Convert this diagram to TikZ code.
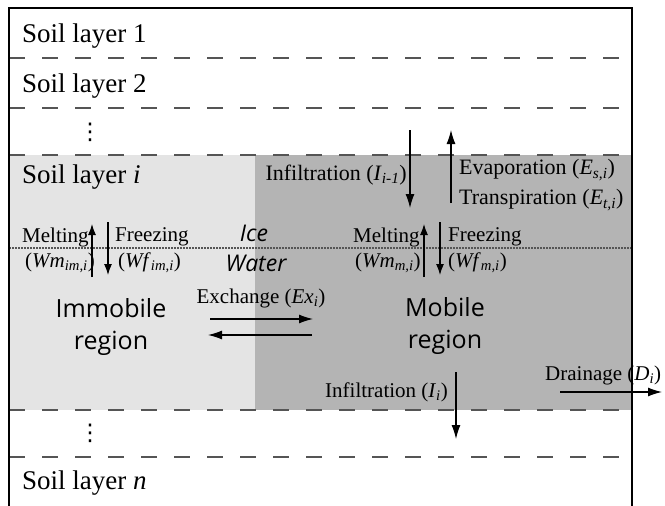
\documentclass[tikz,border=0pt]{standalone}
\usepackage{fontspec}
\setmainfont{Liberation Serif}
\newfontfamily\regionfont{Open Sans}
\newfontfamily\dotsfont{DejaVu Sans}
\usepackage{xcolor}
\usetikzlibrary{arrows.meta,positioning}
\definecolor{immcol}{RGB}{228,228,228}
\definecolor{mobcol}{RGB}{180,180,180}
\definecolor{sepcol}{RGB}{85,85,85}
\newcommand{\sub}[2]{\textit{#1}\textsubscript{\textit{#2}}}

\begin{document}
\begin{tikzpicture}[x=1pt, y=-1pt,
                    every node/.append style = {inner sep=0pt},
                    layerlbl/.style = {anchor=west, font=\fontsize{27}{31}\selectfont},
                    lbl/.style = {font=\fontsize{22}{26}\selectfont},
                    sml/.style = {anchor=west, font=\fontsize{21}{25}\selectfont},
                    dots/.style = {font=\dotsfont\fontsize{23}{26}\selectfont},
                    regionlbl/.style = {align=center, font=\regionfont\fontsize{25}{32}\selectfont},
                    phase/.style = {font=\regionfont\itshape\fontsize{23}{26}\selectfont},
                    flow/.style = {-{Latex[length=14pt,width=9pt]}, line width=1.2pt},
                    smallflow/.style = {-{Latex[length=11pt,width=8pt]}, line width=1.2pt},
                    layersep/.style = {draw=sepcol, line width=2.7pt, dash pattern=on 16pt off 17pt},
                    phasesep/.style = {draw=sepcol, line width=1.5pt, dash pattern=on 1.5pt off 1.5pt}]
    \useasboundingbox (0,0) rectangle (665,506);
    \fill[immcol] (9,155) rectangle (255,410);
    \fill[mobcol] (255,155) rectangle (632,410);
    \foreach \y in {58,108,155,410,457}
        \draw[layersep] (9,\y) -- (632,\y);
    \draw[phasesep] (9,248) -- (632,248);
    \draw[line width=2.6pt] (9,510) -- (9,8) -- (632,8) -- (632,510);

    \node[layerlbl] (l1) at (22,36) {Soil layer 1};
    \node[layerlbl] (l2) at (22,86) {Soil layer 2};
    \node[dots] (dtop) at (90,132) {⋮};
    \node[layerlbl] (li) at (22,177) {Soil layer \textit{i}};
    \node[dots] (dbot) at (90,433) {⋮};
    \node[layerlbl] (ln) at (22,483) {Soil layer \textit{n}};

    \node[lbl, anchor=east] (inftop) at (407,175) {Infiltration (\sub{I}{i-1})};
    \node[lbl, anchor=west] (evap) at (459,170) {Evaporation (\sub{E}{s,i})};
    \node[lbl, anchor=west] (transp) at (459,200) {Transpiration (\sub{E}{t,i})};
    \coordinate (inftopa) at (410,130);
    \coordinate (inftopb) at (410,208);
    \coordinate (evapa) at (451,203);
    \coordinate (evapb) at (451,130);
    \draw[flow] (inftopa) -- (inftopb);
    \draw[flow] (evapa) -- (evapb);

    \node[phase] (ice) at (254,233) {Ice};
    \node[phase] (water) at (256,263) {Water};

    \node[sml] (meltim) at (22,237) {Melting};
    \node[sml] (wmim) at (25,263) {(\sub{Wm}{im,i})};
    \node[sml] (frzim) at (115,237) {Freezing};
    \node[sml] (wfim) at (118,263) {(\sub{Wf}{im,i})};
    \coordinate (meltima) at (92,277);
    \coordinate (meltimb) at (92,224);
    \coordinate (frzima) at (108,222);
    \coordinate (frzimb) at (108,275);
    \draw[smallflow] (meltima) -- (meltimb);
    \draw[smallflow] (frzima) -- (frzimb);

    \node[sml] (meltm) at (353,237) {Melting};
    \node[sml] (wmm) at (355,263) {(\sub{Wm}{m,i})};
    \node[sml] (frzm) at (448,237) {Freezing};
    \node[sml] (wfm) at (448,263) {(\sub{Wf}{m,i})};
    \coordinate (meltma) at (424,277);
    \coordinate (meltmb) at (424,224);
    \coordinate (frzma) at (440,222);
    \coordinate (frzmb) at (440,275);
    \draw[smallflow] (meltma) -- (meltmb);
    \draw[smallflow] (frzma) -- (frzmb);

    \node[regionlbl] (imm) at (111,327) {Immobile\\region};
    \node[regionlbl] (mob) at (445,326) {Mobile\\region};

    \node[sml, anchor=center] (exch) at (261,298) {Exchange (\sub{Ex}{i})};
    \coordinate (exa) at (210,319);
    \coordinate (exb) at (313,319);
    \coordinate (exc) at (312,335);
    \coordinate (exd) at (208,335);
    \draw[flow] (exa) -- (exb);
    \draw[flow] (exc) -- (exd);

    \node[sml, anchor=east] (infbot) at (448,392) {Infiltration (\sub{I}{i})};
    \coordinate (infbota) at (456,372);
    \coordinate (infbotb) at (456,439);
    \draw[flow] (infbota) -- (infbotb);

    \node[sml] (drain) at (545,375) {Drainage (\sub{D}{i})};
    \coordinate (draina) at (560,392);
    \coordinate (drainb) at (662,392);
    \draw[flow] (draina) -- (drainb);
\end{tikzpicture}
\end{document}
